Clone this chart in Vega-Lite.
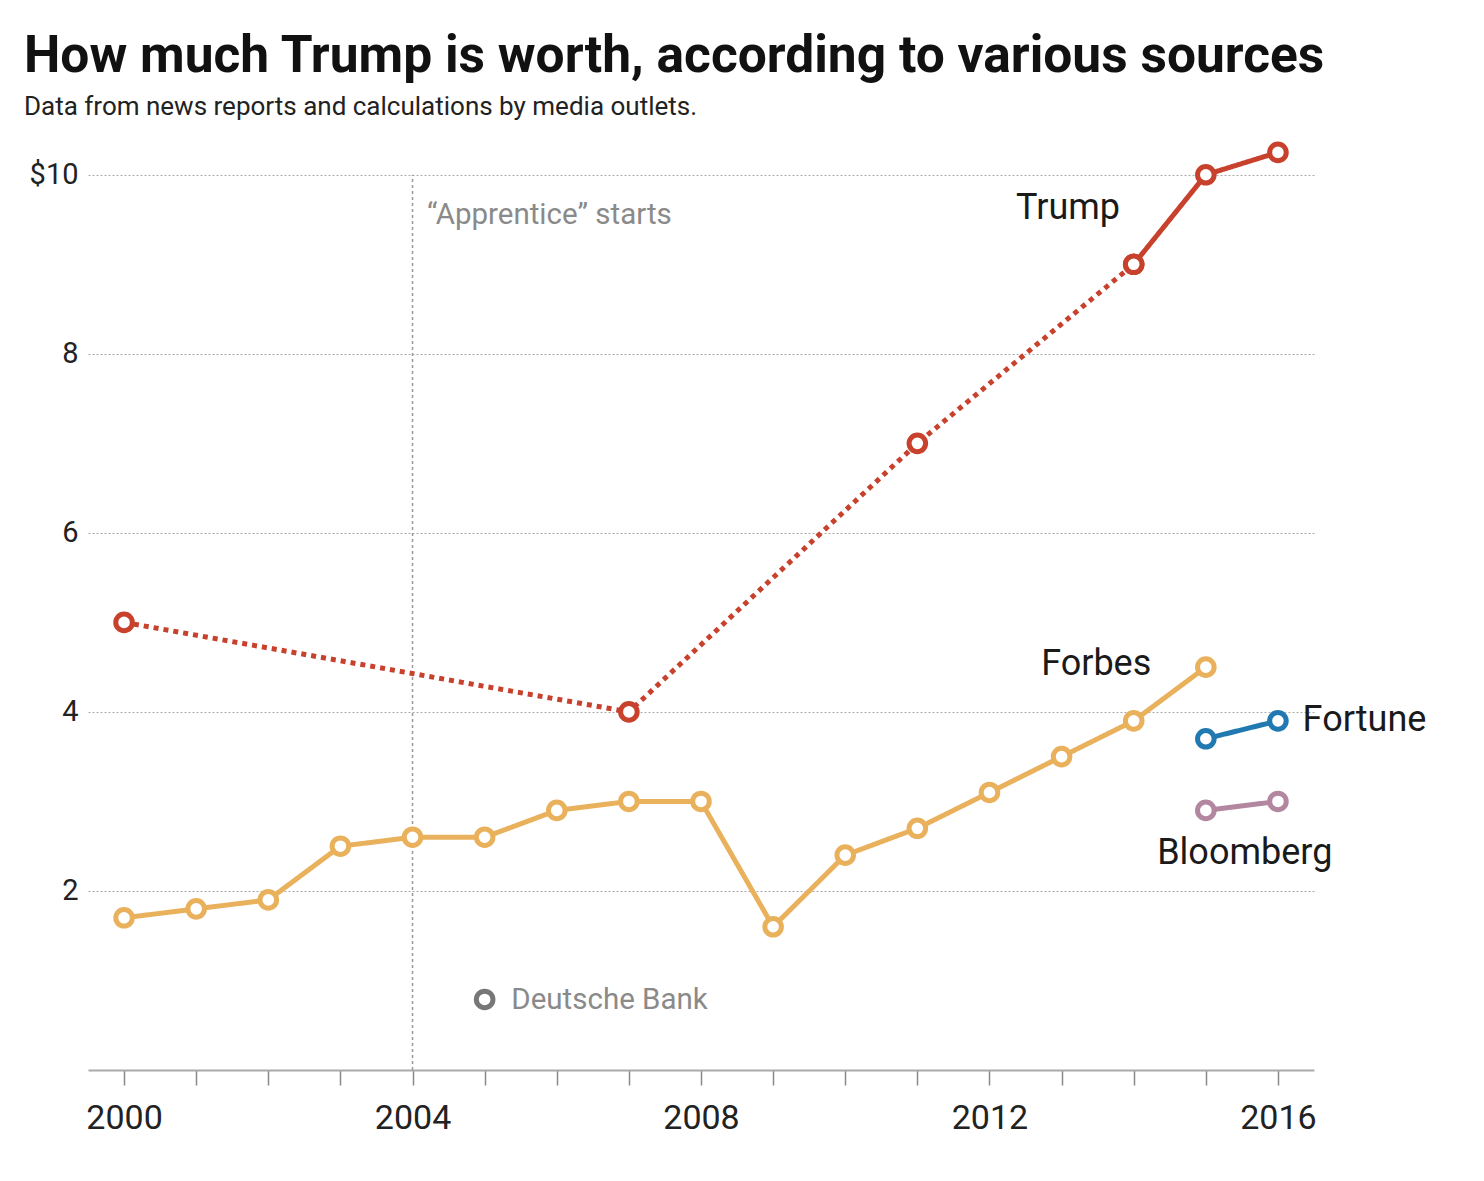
{
  "$schema": "https://vega.github.io/schema/vega-lite/v6.json",
  "autosize": {"type": "none"},
  "width": 1226,
  "height": 940,
  "padding": {"left": 88, "top": 130, "right": 170, "bottom": 111},
  "background": "white",
  "config": {"view": {"stroke": null}, "font": "Roboto"},
  "title": {
    "text": "How much Trump is worth, according to various sources",
    "subtitle": "Data from news reports and calculations by media outlets.",
    "anchor": "start",
    "frame": "group",
    "dx": -64,
    "offset": 10,
    "font": "Roboto",
    "fontSize": 51.5,
    "fontWeight": "bold",
    "color": "#111",
    "subtitleFont": "Roboto",
    "subtitleFontSize": 26,
    "subtitleColor": "#222",
    "subtitlePadding": 12
  },
  "datasets": {
    "estimates": [
      {"source": "Trump", "segment": "dotted", "year": 2000, "worth": 5.0},
      {"source": "Trump", "segment": "dotted", "year": 2007, "worth": 4.0},
      {"source": "Trump", "segment": "dotted", "year": 2011, "worth": 7.0},
      {"source": "Trump", "segment": "dotted", "year": 2014, "worth": 9.0},
      {"source": "Trump", "segment": "solid", "year": 2014, "worth": 9.0},
      {"source": "Trump", "segment": "solid", "year": 2015, "worth": 10.0},
      {"source": "Trump", "segment": "solid", "year": 2016, "worth": 10.25},
      {"source": "Forbes", "segment": "solid", "year": 2000, "worth": 1.7},
      {"source": "Forbes", "segment": "solid", "year": 2001, "worth": 1.8},
      {"source": "Forbes", "segment": "solid", "year": 2002, "worth": 1.9},
      {"source": "Forbes", "segment": "solid", "year": 2003, "worth": 2.5},
      {"source": "Forbes", "segment": "solid", "year": 2004, "worth": 2.6},
      {"source": "Forbes", "segment": "solid", "year": 2005, "worth": 2.6},
      {"source": "Forbes", "segment": "solid", "year": 2006, "worth": 2.9},
      {"source": "Forbes", "segment": "solid", "year": 2007, "worth": 3.0},
      {"source": "Forbes", "segment": "solid", "year": 2008, "worth": 3.0},
      {"source": "Forbes", "segment": "solid", "year": 2009, "worth": 1.6},
      {"source": "Forbes", "segment": "solid", "year": 2010, "worth": 2.4},
      {"source": "Forbes", "segment": "solid", "year": 2011, "worth": 2.7},
      {"source": "Forbes", "segment": "solid", "year": 2012, "worth": 3.1},
      {"source": "Forbes", "segment": "solid", "year": 2013, "worth": 3.5},
      {"source": "Forbes", "segment": "solid", "year": 2014, "worth": 3.9},
      {"source": "Forbes", "segment": "solid", "year": 2015, "worth": 4.5},
      {"source": "Fortune", "segment": "solid", "year": 2015, "worth": 3.7},
      {"source": "Fortune", "segment": "solid", "year": 2016, "worth": 3.9},
      {"source": "Bloomberg", "segment": "solid", "year": 2015, "worth": 2.9},
      {"source": "Bloomberg", "segment": "solid", "year": 2016, "worth": 3.0},
      {"source": "Deutsche Bank", "segment": "solid", "year": 2005, "worth": 0.788}
    ],
    "labels": [
      {"label": "Trump", "year": 2013.09, "worth": 9.63},
      {"label": "Forbes", "year": 2013.48, "worth": 4.53},
      {"label": "Fortune", "year": 2017.2, "worth": 3.91},
      {"label": "Bloomberg", "year": 2015.54, "worth": 2.42}
    ],
    "notes": [
      {"label": "Deutsche Bank", "year": 2005.37, "worth": 0.78},
      {"label": "“Apprentice” starts", "year": 2004.2, "worth": 9.55}
    ],
    "event": [{"year": 2004, "from": 0, "to": 10}]
  },
  "encoding": {
    "x": {
      "field": "year", "type": "quantitative",
      "scale": {"domain": [1999.5, 2016.5], "nice": false, "zero": false},
      "axis": {
        "title": null,
        "values": [2000,2001,2002,2003,2004,2005,2006,2007,2008,2009,2010,2011,2012,2013,2014,2015,2016],
        "labelExpr": "datum.value % 4 == 0 ? datum.value : ''",
        "format": "d",
        "grid": false,
        "tickSize": 15,
        "tickColor": "#888",
        "tickWidth": 1.5,
        "domainColor": "#aaa",
        "domainWidth": 2,
        "labelFontSize": 34,
        "labelColor": "#222",
        "labelPadding": 16,
        "labelFlush": false,
        "labelOverlap": false
      }
    },
    "y": {
      "field": "worth", "type": "quantitative",
      "scale": {"domain": [0, 10.5], "nice": false},
      "axis": {
        "title": null,
        "values": [2, 4, 6, 8, 10],
        "labelExpr": "datum.value == 10 ? '$10' : datum.value",
        "grid": true,
        "gridDash": [2, 2],
        "gridColor": "#aaa",
        "gridWidth": 1,
        "domain": false,
        "ticks": false,
        "labelFontSize": 29,
        "labelColor": "#222",
        "labelPadding": 10
      }
    }
  },
  "layer": [
    {
      "data": {"name": "event"},
      "mark": {"type": "rule", "color": "#999", "strokeDash": [3, 3], "strokeWidth": 1.5},
      "encoding": {"y": {"field": "from", "type": "quantitative"}, "y2": {"field": "to"}}
    },
    {
      "data": {"name": "estimates"},
      "mark": {"type": "line", "strokeWidth": 5, "strokeCap": "butt"},
      "encoding": {
        "color": {
          "field": "source", "type": "nominal", "legend": null,
          "scale": {"domain": ["Trump", "Forbes", "Fortune", "Bloomberg", "Deutsche Bank"],
                    "range": ["#c8412c", "#eab15c", "#2079b0", "#b3879f", "#777777"]}
        },
        "strokeDash": {
          "field": "segment", "type": "nominal", "legend": null,
          "scale": {"domain": ["solid", "dotted"], "range": [[1, 0], [5, 5]]}
        }
      }
    },
    {
      "data": {"name": "estimates"},
      "mark": {"type": "point", "shape": "circle", "filled": false, "fill": "white", "fillOpacity": 1, "strokeWidth": 5, "size": 275, "opacity": 1},
      "encoding": {
        "stroke": {
          "field": "source", "type": "nominal", "legend": null,
          "scale": {"domain": ["Trump", "Forbes", "Fortune", "Bloomberg", "Deutsche Bank"],
                    "range": ["#c8412c", "#eab15c", "#2079b0", "#b3879f", "#777777"]}
        }
      }
    },
    {
      "data": {"name": "labels"},
      "mark": {"type": "text", "fontSize": 36, "color": "#1a1a1a", "baseline": "middle", "align": "center"},
      "encoding": {"text": {"field": "label"}}
    },
    {
      "data": {"name": "notes"},
      "mark": {"type": "text", "color": "#8a8a8a", "baseline": "middle", "align": "left", "fontSize": 29.5},
      "encoding": {"text": {"field": "label"}}
    }
  ]
}
